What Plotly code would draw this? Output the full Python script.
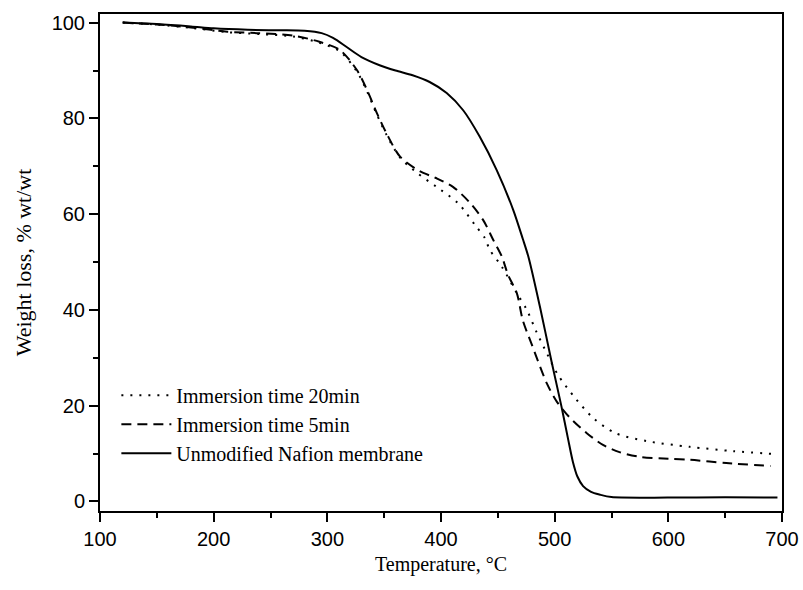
import plotly.graph_objects as go

# Unmodified Nafion membrane (solid)
t_naf = [120, 150, 180, 200, 230, 258, 280, 295, 305, 317, 330, 346, 360, 375, 390, 405, 419.5, 434, 449,
         463.5, 472, 477, 487, 497, 506, 512, 516, 520, 525, 532, 540, 550, 600, 650, 696]
w_naf = [100, 99.7, 99.2, 98.8, 98.5, 98.4, 98.3, 97.8, 96.8, 94.9, 92.8, 91.1, 90.0, 89.0, 87.6, 85.3, 81.7,
         76.2, 69.2, 60.9, 54.8, 51.0, 40.7, 29.5, 19.8, 12.8, 8.3, 5.2, 3.2, 2.0, 1.4, 0.9, 0.8, 0.85, 0.8]

# Immersion time 5min (dashed)
t_5 = [120, 150, 180, 212, 240, 270, 293, 311, 326, 335, 343.6, 352, 364, 381, 395, 410.5, 425, 437, 446, 453.6,
       459, 466.7, 472, 480, 493, 502, 513, 528, 542.5, 557, 575, 600, 619, 651, 690]
w_5 = [100, 99.6, 99.0, 98.1, 97.8, 97.3, 96.0, 94.3, 90.1, 85.9, 81.1, 76.9, 72.0, 69.0, 67.6, 65.7, 62.5, 58.8,
       54.6, 51.1, 47.3, 43.5, 37.8, 32.7, 24.7, 20.8, 17.6, 14.3, 11.8, 10.3, 9.3, 8.9, 8.7, 8.0, 7.4]

# Immersion time 20min (dotted)
t_20 = [120, 150, 180, 212, 240, 270, 293, 311, 326, 335, 343.6, 352, 364, 379, 396, 415, 430, 438.6, 443, 453.6,
        466.7, 475.5, 484, 493, 503, 518, 534, 553, 581, 619, 657, 694]
w_20 = [100, 99.6, 98.9, 98.0, 97.6, 97.1, 95.8, 94.0, 89.8, 85.6, 80.8, 76.6, 71.8, 68.6, 65.7, 62.3, 57.7, 55.0,
        52.5, 49.0, 43.5, 40.0, 35.4, 31.0, 26.4, 21.6, 17.4, 14.3, 12.6, 11.4, 10.5, 9.9]

x_ticks = [100, 200, 300, 400, 500, 600, 700]
y_ticks = [0, 20, 40, 60, 80, 100]

fig = go.Figure()
fig.add_trace(go.Scatter(x=t_20, y=w_20, mode="lines", name="Immersion time 20min",
                         line=dict(color="black", width=2, dash="2px,7px", shape="spline", smoothing=0.8)))
fig.add_trace(go.Scatter(x=t_5, y=w_5, mode="lines", name="Immersion time 5min",
                         line=dict(color="black", width=2, dash="10px,6px", shape="spline", smoothing=0.8)))
fig.add_trace(go.Scatter(x=t_naf, y=w_naf, mode="lines", name="Unmodified Nafion membrane",
                         line=dict(color="black", width=2, shape="spline", smoothing=0.8)))

axis_common = dict(showline=True, linecolor="black", linewidth=2, mirror=True, showgrid=False, zeroline=False,
                   ticks="outside", ticklen=9, tickwidth=2, tickcolor="black", automargin=False,
                   tickfont=dict(family="Liberation Sans, Arial", size=20, color="black"))

fig.update_layout(
    width=803, height=590,
    margin=dict(l=100, r=21, t=14, b=79),
    paper_bgcolor="white", plot_bgcolor="white",
    xaxis=dict(range=[100, 700], tickvals=x_ticks,
               minor=dict(ticks="outside", ticklen=5, tickwidth=2, tickcolor="black", dtick=50, tick0=100),
               title=dict(text="Temperature, °C", standoff=8,
                          font=dict(family="Liberation Serif, Times New Roman", size=20, color="black")),
               **axis_common),
    yaxis=dict(range=[-2, 101.8], tickvals=y_ticks,
               minor=dict(ticks="outside", ticklen=5, tickwidth=2, tickcolor="black", dtick=10, tick0=0),
               title=dict(text="Weight loss, % wt/wt", standoff=14,
                          font=dict(family="Liberation Serif, Times New Roman", size=22, color="black")),
               **axis_common),
    legend=dict(x=0.024, y=0.272, xanchor="left", yanchor="top", bgcolor="rgba(0,0,0,0)",
                font=dict(family="Liberation Serif, Times New Roman", size=20, color="black"),
                itemwidth=50, tracegroupgap=0),
    showlegend=True,
)

fig.write_html("out.html")
